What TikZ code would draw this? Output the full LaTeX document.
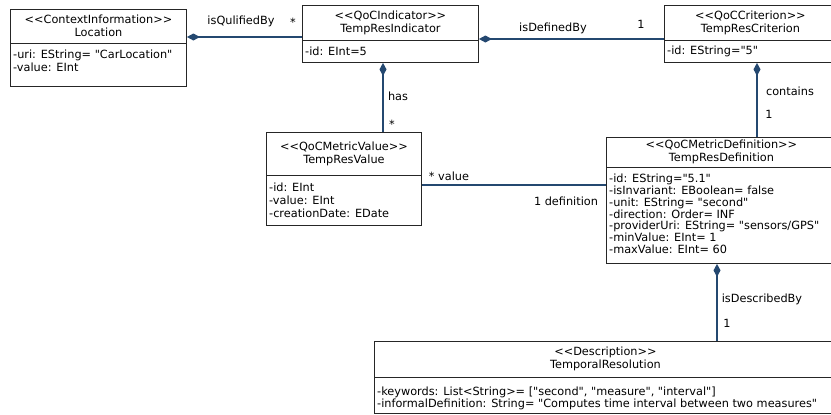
\documentclass[tikz,border=0pt]{standalone}
\usepackage{fontspec}
\setmainfont{DejaVu Sans}[Ligatures=TeXOff]
\usetikzlibrary{arrows.meta,calc}
\definecolor{linkblue}{RGB}{36,72,112}
\tikzset{
	classbox/.style={draw=black!85, line width=0.9pt, anchor=north west, inner sep=0pt},
	classline/.style={draw=black!85, line width=0.9pt},
	headtext/.style={align=center, inner sep=0pt},
	attrtext/.style={align=left, anchor=north west, inner sep=0pt},
	attr def/.style={font=\fontsize{11.3}{11.8}\selectfont},
	attr res/.style={font=\fontsize{11.3}{12.2}\selectfont},
	comp/.style={draw=linkblue, line width=2pt, {Diamond[length=13pt,width=7pt]}-},
	assoc/.style={draw=linkblue, line width=2pt},
	rolelbl/.style={inner sep=0pt}
}
% box name, top left corner, size, header height and gap above the attributes, header, attributes
\def\umlclass(#1)(#2,#3)(#4,#5)(#6,#7)#8#9{%
	\node[classbox, minimum width=#4pt, minimum height=#5pt] (#1) at (#2,#3) {};
	\draw[classline] ($(#1.north west)+(0,#6)$) -- ($(#1.north east)+(0,#6)$);
	\node[headtext] (#1-head) at ($(#1.north)+(0,{#6/2})$) {#8};
	\node[attrtext, attr #1/.try] (#1-attr) at ($(#1.north west)+(3,{#6+#7})$) {#9};
}

\begin{document}
\begin{tikzpicture}[x=1pt, y=-1pt, font=\fontsize{11.3}{13}\selectfont]
	%%%%% START %%%%%
	\useasboundingbox (0,0) rectangle (831,415);
	\clip (0,0) rectangle (831,415);
	
	\umlclass(loc)(10,9)(176,77)(34,7){<<ContextInformation>>\\Location}{-uri: EString= "CarLocation"\\-value: EInt}
	\umlclass(ind)(302,5)(176,57)(35,7){<<QoCIndicator>>\\TempResIndicator}{-id: EInt=5}
	\umlclass(crit)(664,5)(172,57)(35,6){<<QoCCriterion>>\\TempResCriterion}{-id: EString="5"}
	\umlclass(val)(266,132)(155,93)(43,8){<<QoCMetricValue>>\\TempResValue}{-id: EInt\\-value: EInt\\-creationDate: EDate}
	\umlclass(def)(606,137)(230,126)(30,7){<<QoCMetricDefinition>>\\TempResDefinition}{-id: EString="5.1"\\-isInvariant: EBoolean= false\\-unit: EString= "second"\\-direction: Order= INF\\-providerUri: EString= "sensors/GPS"\\-minValue: EInt= 1\\-maxValue: EInt= 60}
	\umlclass(res)(374,341)(462,72)(36,10){<<Description>>\\TemporalResolution}{-keywords: List<String>= ["second", "measure", "interval"]\\-informalDefinition: String= "Computes time interval between two measures"}
	
	\draw[comp] (loc.east |- 0,37) -- (ind.west |- 0,37);
	\draw[comp] (ind.east |- 0,39) -- (crit.west |- 0,39);
	\draw[comp] (ind.south -| 383,0) -- (val.north -| 383,0);
	\draw[comp] (crit.south -| 757,0) -- (def.north -| 757,0);
	\draw[assoc] (val.east |- 0,185) -- (def.west |- 0,185);
	\draw[comp] (def.south -| 717,0) -- (res.north -| 717,0);
	
	\node[rolelbl] (l1) at (241,21) {isQulifiedBy};
	\node[rolelbl] (l2) at (293,22) {*};
	\node[rolelbl] (l3) at (553,28) {isDefinedBy};
	\node[rolelbl] (l4) at (641,24) {1};
	\node[rolelbl] (l5) at (398,96) {has};
	\node[rolelbl] (l6) at (392,124) {*};
	\node[rolelbl] (l7) at (790,91) {contains};
	\node[rolelbl] (l8) at (769,114) {1};
	\node[rolelbl] (l9) at (449,176) {* value};
	\node[rolelbl] (l10) at (566,201) {1 definition};
	\node[rolelbl] (l11) at (762,299) {isDescribedBy};
	\node[rolelbl] (l12) at (727,323) {1};
	%%%%% END %%%%%
\end{tikzpicture}
\end{document}
